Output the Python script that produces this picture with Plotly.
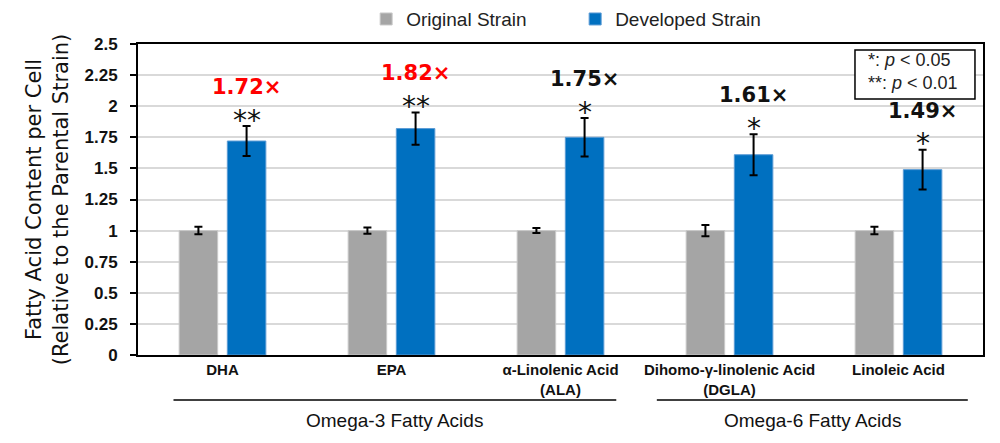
import plotly.graph_objects as go

categories = ["DHA", "EPA", "α-Linolenic Acid<br>(ALA)", "Dihomo-γ-linolenic Acid<br>(DGLA)", "Linoleic Acid"]
original = [1.0, 1.0, 1.0, 1.0, 1.0]
original_err = [0.03, 0.025, 0.02, 0.045, 0.03]
developed = [1.72, 1.82, 1.75, 1.61, 1.49]
developed_err = [0.12, 0.13, 0.155, 0.165, 0.16]
fold_labels = ["1.72×", "1.82×", "1.75×", "1.61×", "1.49×"]
fold_colors = ["#FF0000", "#FF0000", "#111111", "#111111", "#111111"]
significance = ["**", "**", "*", "*", "*"]
y_ticks = [0, 0.25, 0.5, 0.75, 1, 1.25, 1.5, 1.75, 2, 2.25, 2.5]
y_ticktext = ["0", "0.25", "0.5", "0.75", "1", "1.25", "1.5", "1.75", "2", "2.25", "2.5"]
groups = [("Omega-3 Fatty Acids", 0, 2), ("Omega-6 Fatty Acids", 3, 4)]

BARGAP = 0.43
BARGROUPGAP = 0.2

fig = go.Figure()
fig.add_trace(go.Bar(
    name="Original Strain", x=categories, y=original,
    marker=dict(color="#A5A5A5", line=dict(color="#C9C9C9", width=1)),
    error_y=dict(type="data", array=original_err, color="#000000", thickness=2, width=4),
))
fig.add_trace(go.Bar(
    name="Developed Strain", x=categories, y=developed,
    marker=dict(color="#0070C0", line=dict(color="#5B9BD5", width=1)),
    error_y=dict(type="data", array=developed_err, color="#000000", thickness=2, width=4),
))

offset = (1 - BARGAP) / 4
annotations = []
for i, (v, e) in enumerate(zip(developed, developed_err)):
    top = v + e
    annotations.append(dict(
        x=i + offset, y=top, xref="x", yref="y", text=significance[i],
        showarrow=False, yanchor="middle", yshift=6,
        font=dict(family="DejaVu Sans", size=28, color="#111111"),
    ))
    annotations.append(dict(
        x=i + offset, y=top, xref="x", yref="y", text=fold_labels[i],
        showarrow=False, yanchor="middle", yshift=39,
        font=dict(family="DejaVu Sans", size=21, color=fold_colors[i], weight="bold"),
    ))

shapes = []
for name, a, b in groups:
    x0 = a - 0.29 if a == 0 else a - 0.43
    x1 = b + 0.41 if b == 4 else b + 0.33
    shapes.append(dict(type="line", xref="x", yref="paper", x0=x0, x1=x1, y0=-0.145, y1=-0.145,
                       line=dict(color="#404040", width=2)))
    annotations.append(dict(x=(x0 + x1) / 2, y=-0.21, xref="x", yref="paper", text=name,
                            showarrow=False, yanchor="middle",
                            font=dict(family="Liberation Sans", size=19, color="#111111")))

# significance key box
shapes.append(dict(type="rect", xref="paper", yref="paper", x0=0.8485, x1=0.9905, y0=0.823, y1=0.981,
                   line=dict(color="#000000", width=1.5), fillcolor="white"))
annotations.append(dict(x=0.861, y=0.91, xref="paper", yref="paper", xanchor="left", yanchor="middle",
                        align="left", showarrow=False,
                        text="*: <i>p</i> &lt; 0.05<br>**: <i>p</i> &lt; 0.01",
                        font=dict(family="Liberation Sans", size=18, color="#222222")))

fig.update_layout(
    width=1000, height=443,
    margin=dict(l=138, r=17, t=44, b=88, autoexpand=False),
    paper_bgcolor="white", plot_bgcolor="white",
    barmode="group", bargap=BARGAP, bargroupgap=BARGROUPGAP,
    showlegend=True,
    legend=dict(orientation="h", x=0.27, y=1.08, xanchor="left", yanchor="middle",
                entrywidth=164, entrywidthmode="pixels",
                font=dict(family="Liberation Sans", size=19, color="#222222")),
    shapes=shapes, annotations=annotations,
    font=dict(family="Liberation Sans"),
)
fig.update_xaxes(
    type="category", showline=True, linecolor="#000000", linewidth=2, mirror=True,
    ticks="", showgrid=False,
    tickfont=dict(family="Liberation Sans", size=15, color="#111111", weight="bold"),
)
fig.update_yaxes(
    range=[0, 2.5], tickvals=y_ticks, ticktext=y_ticktext,
    showline=True, linecolor="#000000", linewidth=2, mirror=True,
    ticks="outside", ticklen=6, tickwidth=2, tickcolor="#000000",
    showgrid=True, gridcolor="#D9D9D9", gridwidth=1.5,
    ticklabelstandoff=9,
    tickfont=dict(family="Liberation Sans", size=17, color="#111111", weight="bold"),
    title=dict(text="Fatty Acid Content per Cell<br>(Relative to the Parental Strain)",
               font=dict(family="DejaVu Sans", size=21, color="#111111"), standoff=10),
)

fig.write_html("out.html")
